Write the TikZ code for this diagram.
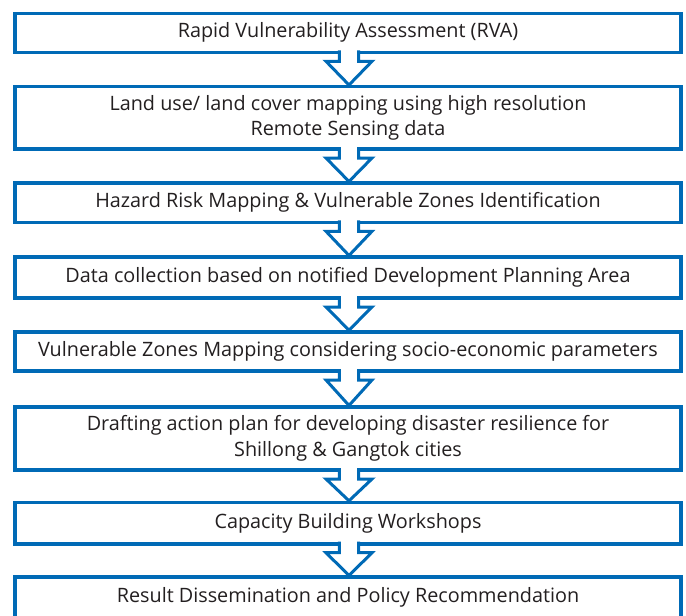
\documentclass[tikz,border=0pt]{standalone}
\usepackage{fontspec}
\setmainfont{Open Sans}
\usetikzlibrary{calc}
\definecolor{boxblue}{RGB}{0,106,182}
\definecolor{txtgray}{RGB}{35,31,32}
\newcommand{\flowarr}[2]{%
  \path (#1.south) ++(1,0) coordinate (fa);
  \path (#2.north) ++(1,-1.5) coordinate (fb);
  \draw[flowarrow] ($(fa)+(-9.6,-2)$) -- ($(fa)+(-9.6,9)$) -- ($(fa)+(-23,9)$) -- (fb)
     -- ($(fa)+(23,9)$) -- ($(fa)+(9.6,9)$) -- ($(fa)+(9.6,-2)$);
}
\begin{document}
\begin{tikzpicture}[x=1pt,y=-1pt,
  flowbox/.style={draw=boxblue, line width=3.6pt, fill=white, rectangle,
    minimum width=666pt, inner sep=0pt, outer sep=0pt, align=center,
    text=txtgray, font=\fontsize{19.8}{25.5}\selectfont},
  flowarrow/.style={draw=boxblue, line width=3pt, fill=white, line join=miter}]
\useasboundingbox (0,0) rectangle (686,616);
\node[flowbox, minimum height=39pt] (b1) at (348,32.8) {Rapid Vulnerability Assessment (RVA)};
\node[flowbox, minimum height=62.5pt] (b2) at (348,117.75) {Land use/ land cover mapping using high resolution\\Remote Sensing data};
\node[flowbox, minimum height=39.3pt] (b3) at (348,202.65) {Hazard Risk Mapping \& Vulnerable Zones Identification};
\node[flowbox, minimum height=41pt] (b4) at (348,277.5) {Data collection based on notified Development Planning Area};
\node[flowbox, minimum height=39.3pt] (b5) at (348,351.35) {Vulnerable Zones Mapping considering socio-economic parameters};
\node[flowbox, minimum height=63pt] (b6) at (348,438.5) {Drafting action plan for developing disaster resilience for\\Shillong \& Gangtok cities};
\node[flowbox, minimum height=41.4pt] (b7) at (348,523) {Capacity Building Workshops};
\node[flowbox, minimum height=41pt] (b8) at (348,597.5) {Result Dissemination and Policy Recommendation};
\flowarr{b1}{b2}
\flowarr{b2}{b3}
\flowarr{b3}{b4}
\flowarr{b4}{b5}
\flowarr{b5}{b6}
\flowarr{b6}{b7}
\flowarr{b7}{b8}
\end{tikzpicture}
\end{document}
